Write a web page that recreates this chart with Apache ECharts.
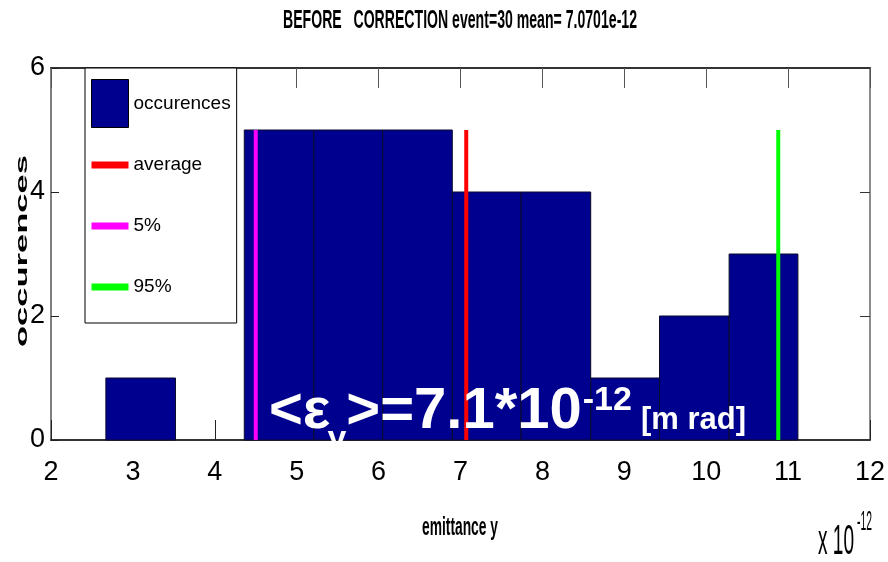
<!DOCTYPE html>
<html>
<head>
<meta charset="utf-8">
<script src="https://cdn.jsdelivr.net/npm/echarts@6/dist/echarts.min.js"></script>
<style>
  html, body { margin: 0; padding: 0; background: #ffffff; }
  #chart { width: 888px; height: 562px; }
</style>
</head>
<body>
<div id="chart"></div>
<script>
// Vertical emittance histogram, 30 events (x in units of 1e-12 m rad)
const binEdges = [2.67, 3.52, 4.36, 5.21, 6.05, 6.90, 7.74, 8.59, 9.43, 10.28, 11.12];
const counts = [1, 0, 5, 5, 5, 4, 4, 1, 2, 3];
const xTicks = [2, 3, 4, 5, 6, 7, 8, 9, 10, 11, 12];
const yTicks = [0, 2, 4, 6];
const meanValue = 7.0701;
const p5Value = 4.50;
const p95Value = 10.88;
const markerTop = 5;

const titleText = 'BEFORE   CORRECTION event=30 mean= 7.0701e-12';
const legendNames = ['occurences', 'average', '5%', '95%'];

const NAVY = '#00008f';
const SANS = '"Liberation Sans", Arial, Helvetica, sans-serif';

// histogram rows: [left edge, right edge, count]
const histData = counts.map((c, i) => [binEdges[i], binEdges[i + 1], c]);

const measureCtx = document.createElement('canvas').getContext('2d');
function textWidth(str, font) {
  measureCtx.font = font;
  return measureCtx.measureText(str).width;
}

// stretched label: left/middle anchored, squeezed to a given width and ink height
function stretchedText(str, weight, size, x, y, width, inkHeight, heightRatio, extra) {
  const font = weight + ' ' + size + 'px ' + SANS;
  const sx = width / textWidth(str, font);
  const sy = inkHeight / (heightRatio * size);
  return Object.assign({
    type: 'text', x: x, y: y, scaleX: sx, scaleY: sy, z: 10,
    style: { text: str, font: font, fill: '#000', align: 'left', verticalAlign: 'middle' }
  }, extra || {});
}

// white annotation <ε_y>=7.1*10^-12 [m rad], laid out piece by piece
function annotation() {
  const big = 'bold 58px ' + SANS;
  const sub = 'bold 34px ' + SANS;
  const unit = 'bold 31px ' + SANS;
  const base = 432;
  const mid = (b, size) => b - 0.3465 * size;
  const parts = [];
  let x = 269;
  const push = (str, font, size, baseline) => {
    parts.push({
      type: 'text', x: x, y: mid(baseline, size), z: 20,
      style: { text: str, font: font, fill: '#ffffff', align: 'left', verticalAlign: 'middle' }
    });
    x += textWidth(str, font);
  };
  push('<ε', big, 58, base);
  x -= 3;
  push('y', sub, 34, 451);
  push('>=7.1*10', big, 58, base);
  x += 1;
  push('-12', sub, 34, 412);
  x += 9;
  push('[m rad]', unit, 31, 431);
  return parts;
}

// legend line icon: a 37x7 bar centred in a 37x48 box (tiny corner specks fix the box size)
const lineIcon = 'path://M0,0h0.01v0.01h-0.01Z M0,20.5H37V27.5H0Z M36.99,47.99h0.01v0.01h-0.01Z';

const chart = echarts.init(document.getElementById('chart'), null, { renderer: 'canvas' });

const option = {
  backgroundColor: '#ffffff',
  animation: false,
  grid: { left: 51, right: 14, top: 68, bottom: 122, containLabel: false },
  legend: {
    orient: 'vertical',
    left: 85,
    top: 68,
    padding: [11, 6, 12, 6],
    itemWidth: 37,
    itemHeight: 48,
    itemGap: 13,
    backgroundColor: '#ffffff',
    borderColor: '#000000',
    borderWidth: 1,
    selectedMode: false,
    z: 8,
    textStyle: { fontFamily: SANS, fontSize: 19, color: '#000000' },
    data: [
      { name: legendNames[0], icon: 'rect', itemStyle: { color: NAVY, borderColor: '#000', borderWidth: 1 } },
      { name: legendNames[1], icon: lineIcon, itemStyle: { color: '#ff0000', borderWidth: 0 } },
      { name: legendNames[2], icon: lineIcon, itemStyle: { color: '#ff00ff', borderWidth: 0 } },
      { name: legendNames[3], icon: lineIcon, itemStyle: { color: '#00ff00', borderWidth: 0 } }
    ]
  },
  xAxis: [
    {
      type: 'value', position: 'bottom', min: xTicks[0], max: xTicks[xTicks.length - 1], interval: 1,
      axisLine: { show: true, onZero: false, lineStyle: { color: '#333', width: 2 } },
      axisTick: { show: true, inside: true, length: 20, lineStyle: { color: '#222', width: 1 } },
      axisLabel: {
        margin: 19, color: '#000', fontFamily: SANS, fontSize: 27,
        formatter: v => (xTicks.indexOf(v) >= 0 ? String(v) : '')
      },
      splitLine: { show: false }
    },
    {
      type: 'value', position: 'top', min: xTicks[0], max: xTicks[xTicks.length - 1], interval: 1,
      axisLine: { show: true, onZero: false, lineStyle: { color: '#333', width: 2 } },
      axisTick: { show: true, inside: true, length: 20, lineStyle: { color: '#555', width: 1 } },
      axisLabel: { show: false },
      splitLine: { show: false }
    }
  ],
  yAxis: [
    {
      type: 'value', position: 'left', min: yTicks[0], max: yTicks[yTicks.length - 1], interval: 2,
      axisLine: { show: true, onZero: false, lineStyle: { color: '#555', width: 1.5 } },
      axisTick: { show: true, inside: true, length: 8, lineStyle: { color: '#222', width: 1 } },
      axisLabel: {
        margin: 6, color: '#000', fontFamily: SANS, fontSize: 27,
        formatter: v => (yTicks.indexOf(v) >= 0 ? String(v) : '')
      },
      splitLine: { show: false }
    },
    {
      type: 'value', position: 'right', min: yTicks[0], max: yTicks[yTicks.length - 1], interval: 2,
      axisLine: { show: true, onZero: false, lineStyle: { color: '#666', width: 1.5 } },
      axisTick: { show: true, inside: true, length: 10, lineStyle: { color: '#333', width: 1 } },
      axisLabel: { show: false },
      splitLine: { show: false }
    }
  ],
  series: [
    {
      name: legendNames[0],
      type: 'custom',
      xAxisIndex: 0, yAxisIndex: 0,
      z: 2,
      itemStyle: { color: NAVY, borderColor: '#000', borderWidth: 1 },
      encode: { x: [0, 1], y: 2 },
      data: histData,
      renderItem: function (params, api) {
        const count = api.value(2);
        if (!count) return null;
        const topLeft = api.coord([api.value(0), count]);
        const bottomRight = api.coord([api.value(1), 0]);
        return {
          type: 'rect',
          shape: {
            x: topLeft[0], y: topLeft[1],
            width: bottomRight[0] - topLeft[0], height: bottomRight[1] - topLeft[1]
          },
          style: { fill: NAVY, stroke: '#0a0a2a', lineWidth: 1 }
        };
      }
    },
    {
      name: legendNames[1], type: 'line', z: 4, symbol: 'none', color: '#ff0000',
      lineStyle: { color: '#ff0000', width: 4 },
      data: [[meanValue, 0], [meanValue, markerTop]]
    },
    {
      name: legendNames[2], type: 'line', z: 4, symbol: 'none', color: '#ff00ff',
      lineStyle: { color: '#ff00ff', width: 4 },
      data: [[p5Value, 0], [p5Value, markerTop]]
    },
    {
      name: legendNames[3], type: 'line', z: 4, symbol: 'none', color: '#00ff00',
      lineStyle: { color: '#00ff00', width: 4 },
      data: [[p95Value, 0], [p95Value, markerTop]]
    }
  ],
  graphic: [
    stretchedText(titleText, 'bold', 15, 283, 21, 354, 18, 0.716),
    stretchedText('occurences', 'bold', 20, 22, 347, 192, 8.5, 0.519, { rotation: Math.PI / 2 }),
    stretchedText('emittance y', 'bold', 16, 422, 528, 76, 13, 0.519),
    stretchedText('x 10', 'normal', 16, 818, 542, 36, 31, 0.716),
    stretchedText('-12', 'normal', 12, 857, 522, 15, 20, 0.716)
  ].concat(annotation())
};

chart.setOption(option);
</script>
</body>
</html>
